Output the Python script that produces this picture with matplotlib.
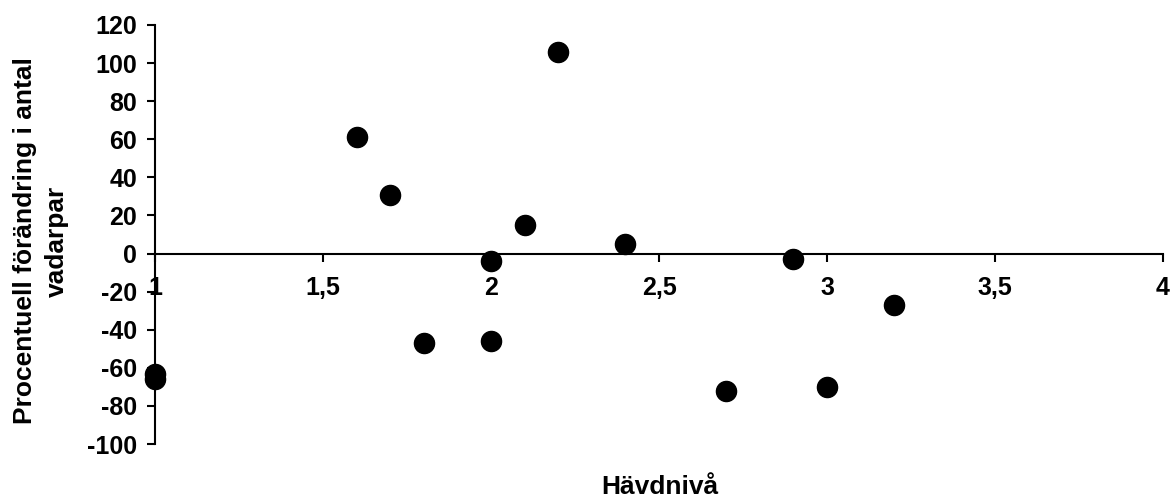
import matplotlib.pyplot as plt
from matplotlib.ticker import FuncFormatter

plt.rcParams['font.family'] = ['Liberation Sans', 'DejaVu Sans']
plt.rcParams['font.weight'] = 'bold'
plt.rcParams['axes.unicode_minus'] = False

hävdnivå = [1.0, 1.0, 1.6, 1.7, 1.8, 2.0, 2.0, 2.1, 2.2, 2.4, 2.7, 2.9, 3.0, 3.2]
förändring = [-63, -66, 61, 31, -47, -4, -46, 15, 106, 5, -72, -3, -70, -27]

x_ticks = [1, 1.5, 2, 2.5, 3, 3.5, 4]
y_ticks = list(range(-100, 121, 20))

fig = plt.figure(figsize=(11.71, 4.97), dpi=100)
ax = fig.add_axes([0.1324, 0.1066, 0.8608, 0.8431])

ax.scatter(hävdnivå, förändring, s=210, color='black', zorder=3, clip_on=False)

ax.set_xlim(1, 4)
ax.set_ylim(-100, 120)
ax.set_xticks(x_ticks)
ax.set_yticks(y_ticks)
ax.xaxis.set_major_formatter(FuncFormatter(lambda v, p: f'{v:g}'.replace('.', ',')))

ax.spines['top'].set_visible(False)
ax.spines['right'].set_visible(False)
ax.spines['bottom'].set_position(('data', 0))
ax.spines['bottom'].set_linewidth(1.5)
ax.spines['left'].set_linewidth(1.5)

ax.tick_params(axis='both', direction='out', length=6, width=1.5, labelsize=18)
ax.tick_params(axis='x', pad=10)
ax.tick_params(axis='y', pad=7)
for lbl in ax.get_xticklabels() + ax.get_yticklabels():
    lbl.set_fontweight('bold')

fig.text(660 / 1171, 1 - 494 / 497, 'Hävdnivå', ha='center', va='baseline',
         fontsize=19, fontweight='bold')
fig.text(41 / 1171, 1 - 241 / 497, 'Procentuell förändring i antal\nvadarpar',
         ha='center', va='center', rotation=90, fontsize=19, fontweight='bold',
         linespacing=1.42)

fig.savefig('out.png', dpi=100)
